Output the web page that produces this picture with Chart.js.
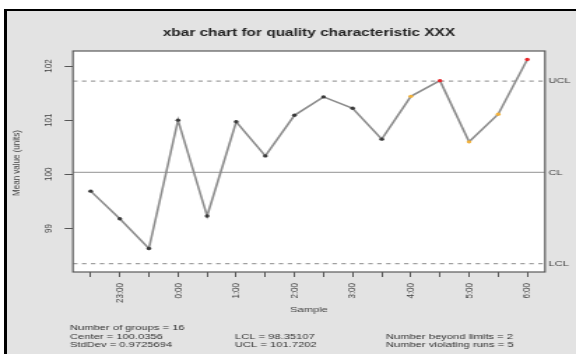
<!DOCTYPE html>
<html><head><meta charset="utf-8">
<script src="https://cdn.jsdelivr.net/npm/chart.js@4.4.1/dist/chart.umd.min.js"></script>
<style>
html,body{margin:0;padding:0;background:#fff;}
#page{position:relative;width:576px;height:354px;overflow:hidden;background:#fff;}
#frame{position:absolute;left:4px;top:9px;right:0;bottom:0;background:#e3e3e3;border-left:3px solid #000;border-top:2px solid #000;}
#wrap{position:absolute;left:0;top:0;width:412px;height:354px;transform:scaleX(1.398058);transform-origin:0 0;}
</style></head>
<body><div id="page"><div id="frame"></div><div id="wrap"><canvas id="c" width="412" height="354"></canvas></div></div>
<script>
// ---- data ----
const samples = ['22:30','23:00','23:30','0:00','0:30','1:00','1:30','2:00','2:30','3:00','3:30','4:00','4:30','5:00','5:30','6:00'];
const means = [99.69, 99.18, 98.63, 101.00, 99.23, 100.97, 100.34, 101.09, 101.43, 101.22, 100.65, 101.44, 101.73, 100.60, 101.11, 102.12];
const centerLine = 100.0356;
const lcl = 98.35107;
const ucl = 101.7202;
const stdDev = 0.9725694;
const nGroups = 16;
const beyondLimits = 2;
const violatingRuns = 5;
const yTicks = [99, 100, 101, 102];
const titleText = 'xbar chart for quality characteristic XXX';
const yTitle = 'Mean value (units)';
const xTitle = 'Sample';

// ---- point status (beyond limits = red, violating runs = orange) ----
const runLen = [];
means.forEach((v, i) => {
  const side = v > centerLine ? 1 : (v < centerLine ? -1 : 0);
  const prevSide = i > 0 ? (means[i-1] > centerLine ? 1 : (means[i-1] < centerLine ? -1 : 0)) : 0;
  runLen.push(i > 0 && side !== 0 && side === prevSide ? runLen[i-1] + 1 : 1);
});
const pointColors = means.map((v, i) => (v > ucl || v < lcl) ? '#e8262a' : (runLen[i] >= 7 ? '#f2b13a' : '#3a3a3a'));

const xMin = -0.608, xMax = samples.length - 1 + 0.608;
const FONT = '"Liberation Sans", Arial, Helvetica, sans-serif';

function txt(ctx, s, x, y, font, color, align, rot) {
  ctx.save();
  ctx.translate(x, y);
  if (rot) ctx.rotate(rot);
  ctx.font = font;
  ctx.fillStyle = color;
  ctx.textAlign = align || 'left';
  ctx.textBaseline = 'middle';
  ctx.fillText(s, 0, 0);
  ctx.restore();
}

const decor = {
  id: 'decor',
  beforeDraw(chart) {
    const {ctx, chartArea: a} = chart;
    ctx.save();
    ctx.fillStyle = '#ffffff';
    ctx.fillRect(a.left, a.top, a.right - a.left, a.bottom - a.top);
    ctx.restore();
  },
  afterDraw(chart) {
    const {ctx, chartArea: a, scales} = chart;
    const ys = scales.y;
    ctx.save();
    ctx.strokeStyle = '#5a5a5a';
    ctx.lineWidth = 1.2;
    ctx.strokeRect(a.left, a.top, a.right - a.left, a.bottom - a.top);
    ctx.restore();
    const cx = (a.left + a.right) / 2;
    // title
    txt(ctx, titleText, cx, 33, 'bold 11px ' + FONT, '#222', 'center');
    // y tick labels
    yTicks.forEach(v => txt(ctx, String(v), 34.3, ys.getPixelForValue(v), '8px ' + FONT, '#444', 'center', -Math.PI / 2));
    // y title
    txt(ctx, yTitle, 12.2, (a.top + a.bottom) / 2 + 1.5, '8px ' + FONT, '#444', 'center', -Math.PI / 2);
    // x title
    txt(ctx, xTitle, cx, 310, '8px ' + FONT, '#444', 'center');
    // limit labels
    txt(ctx, 'UCL', a.right + 2.5, ys.getPixelForValue(ucl), '8px ' + FONT, '#444', 'left');
    txt(ctx, 'CL', a.right + 2.5, ys.getPixelForValue(centerLine), '8px ' + FONT, '#444', 'left');
    txt(ctx, 'LCL', a.right + 2.5, ys.getPixelForValue(lcl), '8px ' + FONT, '#444', 'left');
    // statistics
    const f = '8px ' + FONT, c = '#333';
    const l1 = 328, l2 = 336.5, l3 = 345;
    txt(ctx, 'Number of groups = ' + nGroups, 50, l1, f, c);
    txt(ctx, 'Center = ' + centerLine, 50, l2, f, c);
    txt(ctx, 'StdDev = ' + stdDev, 50, l3, f, c);
    txt(ctx, 'LCL = ' + lcl, 168, l2, f, c);
    txt(ctx, 'UCL = ' + ucl, 168, l3, f, c);
    txt(ctx, 'Number beyond limits = ' + beyondLimits, 276, l2, f, c);
    txt(ctx, 'Number violating runs = ' + violatingRuns, 276, l3, f, c);
  }
};

const limitLine = (v, dash) => ({
  type: 'line',
  data: [{x: xMin, y: v}, {x: xMax, y: v}],
  borderColor: dash ? '#a0a0a0' : '#a8a8a8',
  borderWidth: dash ? 1.1 : 1.3,
  borderDash: dash ? [3.2, 3.2] : [],
  pointRadius: 0,
  order: 2
});

new Chart(document.getElementById('c'), {
  type: 'line',
  data: {
    datasets: [
      {
        data: means.map((v, i) => ({x: i, y: v})),
        borderColor: '#8c8c8c',
        borderWidth: 1.6,
        pointRadius: 1.7,
        pointBorderWidth: 0,
        pointBackgroundColor: pointColors,
        tension: 0,
        order: 0
      },
      limitLine(ucl, true),
      limitLine(centerLine, false),
      limitLine(lcl, true)
    ]
  },
  options: {
    responsive: false,
    animation: false,
    devicePixelRatio: 1,
    layout: {padding: {left: 0.2, right: 22.2, top: 51, bottom: 0}},
    plugins: {legend: {display: false}, tooltip: {enabled: false}, title: {display: false}},
    scales: {
      x: {
        type: 'linear',
        min: xMin, max: xMax,
        afterBuildTicks: s => { s.ticks = samples.map((_, i) => ({value: i})); },
        afterFit: s => { s.height = 82; },
        grid: {display: true, drawOnChartArea: false, drawTicks: true, tickLength: 5, color: '#555', lineWidth: 1},
        border: {display: false},
        ticks: {
          autoSkip: false, minRotation: 90, maxRotation: 90, padding: 6,
          font: {size: 8, family: FONT}, color: '#444',
          callback: v => (v % 2 === 1 ? samples[v] : '')
        }
      },
      y: {
        type: 'linear',
        min: 98.197, max: 102.277,
        afterBuildTicks: s => { s.ticks = yTicks.map(v => ({value: v})); },
        afterFit: s => { s.width = 52; },
        grid: {display: true, drawOnChartArea: false, drawTicks: true, tickLength: 6, color: '#555', lineWidth: 1},
        border: {display: false},
        ticks: {display: true, callback: () => '', font: {size: 8}}
      }
    }
  },
  plugins: [decor]
});
</script>
</body></html>
